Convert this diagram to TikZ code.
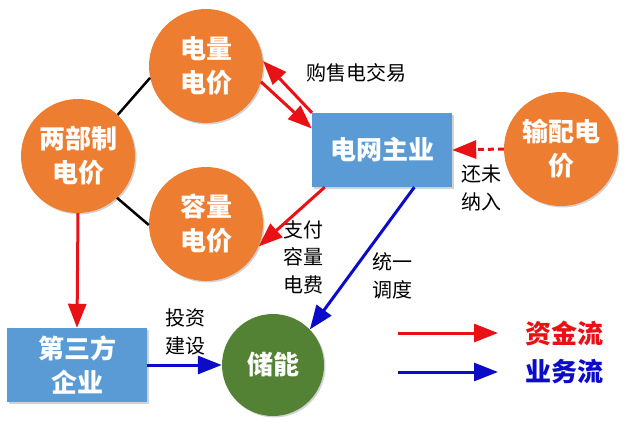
\documentclass[tikz,border=0pt]{standalone}
\usepackage{fontspec}
\setmainfont{Noto Sans CJK SC}
\usepackage{xcolor}
\usepackage{tikz}
\usetikzlibrary{
	arrows.meta,shadows
}
\definecolor{discorange}{RGB}{237,125,49}
\definecolor{boxblue}{RGB}{91,155,213}
\definecolor{storegreen}{RGB}{84,130,53}
\definecolor{fundred}{RGB}{232,18,22}
\definecolor{bizblue}{RGB}{12,12,200}

\begin{document}
\begin{tikzpicture}[x=1pt,y=-1pt,
		disc/.style={circle,fill=discorange,minimum size=114pt,inner sep=0pt,align=center,
			text=white,font=\bfseries\fontsize{26}{34}\selectfont,
			drop shadow={fill=black!50,opacity=0.35,shadow xshift=1.5pt,shadow yshift=-1.5pt}},
		box/.style={rectangle,fill=boxblue,minimum width=140pt,minimum height=74pt,align=center,
			text=white,font=\bfseries\fontsize{26}{34}\selectfont,
			drop shadow={fill=black!50,opacity=0.35,shadow xshift=1.5pt,shadow yshift=-1.5pt}},
		lbl/.style={align=center,font=\fontsize{20}{27.5}\selectfont},
		legtxt/.style={font=\bfseries\fontsize{26}{30}\selectfont},
		flow/.style={line width=3pt,-{Triangle[length=24pt,width=18pt]}}]
		\useasboundingbox (0,0) rectangle (628,425);
		\node[disc] (DL) at (206,66) {电量\\电价};
		\node[disc] (LB) at (78,156) {两部制\\电价};
		\node[disc] (RL) at (206,224) {容量\\电价};
		\node[disc] (SP) at (561,149) {输配电\\价};
		\node[box] (GRID) at (382,150) {电网主业};
		\node[box] (TP) at (77,365) {第三方\\企业};
		\node[disc,fill=storegreen,minimum size=102pt] (ES) at (273,365) {储能};
		%
		\node[lbl] (TRADE) at (356,73) {购售电交易};
		\node[lbl] (NOTYET) at (481,188) {还未\\纳入};
		\node[lbl] (PAY) at (303,257) {支付\\容量\\电费};
		\node[lbl] (DISP) at (392,276) {统一\\调度};
		\node[lbl] (INVEST) at (185,332) {投资\\建设};
		%
		\path[line width=2.5pt]
			(LB.46) edge (DL.192)
			(LB.-47) edge (RL.181);
		\path[flow,fundred]
			(GRID.152) edge (DL.5)
			(DL.-16) edge (GRID.163)
			(GRID.213) edge (RL.-23)
			(LB.south) edge (TP.north);
		\draw[flow,fundred,dash pattern=on 6pt off 4pt] (SP.west) -- (GRID.east);
		\path[flow,bizblue]
			(GRID.-49) edge (ES.44)
			(TP.east) edge (ES.west);
		%
		\coordinate (F0) at (398,333);
		\coordinate (F1) at (498,333);
		\coordinate (B0) at (398,372);
		\coordinate (B1) at (498,372);
		\draw[flow,fundred] (F0) -- (F1);
		\draw[flow,bizblue] (B0) -- (B1);
		\node[legtxt,text=fundred] (FUND) at (564,333) {资金流};
		\node[legtxt,text=bizblue] (BIZ) at (564,372) {业务流};
	\end{tikzpicture}
\end{document}
